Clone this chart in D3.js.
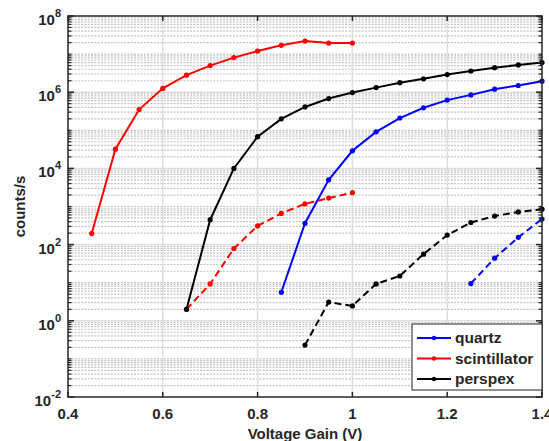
<!DOCTYPE html>
<html>
<head>
<script src="https://cdn.jsdelivr.net/npm/d3@7"></script>
<style>
  body { margin: 0; background: #fff; }
  text { font-family: "Liberation Sans", Arial, sans-serif; font-weight: bold; fill: #262626; }
</style>
</head>
<body>
<svg id="chart"></svg>
<script>
// voltage gain steps
const gainA = [0.45, 0.5, 0.55, 0.6, 0.65, 0.7, 0.75, 0.8, 0.85, 0.9, 0.95, 1.0];
const gainB = [0.65, 0.7, 0.75, 0.8, 0.85, 0.9, 0.95, 1.0, 1.05, 1.1, 1.15, 1.2, 1.25, 1.3, 1.35, 1.4];
const gainC = [0.85, 0.9, 0.95, 1.0, 1.05, 1.1, 1.15, 1.2, 1.25, 1.3, 1.35, 1.4];

// counts/s
const scintSolid = [195, 3.2e4, 3.5e5, 1.26e6, 2.8e6, 5.0e6, 8.1e6, 1.2e7, 1.7e7, 2.2e7, 1.95e7, 1.95e7];
const scintDashed = [2.0, 9.3, 79, 310, 660, 1170, 1660, 2300];
const perspexSolid = [2.0, 450, 1.0e4, 6.8e4, 2.0e5, 4.1e5, 6.8e5, 9.8e5, 1.32e6, 1.78e6, 2.24e6, 2.9e6, 3.6e6, 4.4e6, 5.2e6, 6.0e6];
const perspexDashed = [0.23, 3.1, 2.45, 9.3, 15, 56, 178, 380, 560, 720, 850];
const quartzSolid = [5.6, 363, 5.0e3, 2.9e4, 9.1e4, 2.1e5, 3.9e5, 6.2e5, 8.5e5, 1.2e6, 1.5e6, 1.95e6];
const quartzDashed = [9.5, 44, 155, 470];

const xTicks = [0.4, 0.6, 0.8, 1.0, 1.2, 1.4];
const xTickLabels = ['0.4', '0.6', '0.8', '1', '1.2', '1.4'];
const yTickExp = [-2, 0, 2, 4, 6, 8];

const legendNames = ['quartz', 'scintillator', 'perspex'];
const legendColors = ['#0000ff', '#ff0000', '#000000'];

const width = 549, height = 441;
const margin = { top: 16, right: 7, bottom: 44, left: 68 };

const svg = d3.select('#chart').attr('width', width).attr('height', height);

const x = d3.scaleLinear().domain([0.4, 1.4]).range([margin.left, width - margin.right]);
const y = d3.scaleLog().domain([1e-2, 1e8]).range([height - margin.bottom, margin.top]);

const x0 = x.range()[0], x1 = x.range()[1];
const yb = y.range()[0], yt = y.range()[1];

// minor positions on the log axis (everything that isn't an even decade)
const minorY = [];
for (let e = -2; e < 8; e++) {
  for (let m = 1; m <= 9; m++) {
    if (m === 1 && e % 2 === 0) continue;
    minorY.push(m * Math.pow(10, e));
  }
}

const grid = svg.append('g');
grid.selectAll('line.minor').data(minorY).enter().append('line')
  .attr('x1', x0).attr('x2', x1)
  .attr('y1', d => y(d)).attr('y2', d => y(d))
  .attr('stroke', '#c4c4c4').attr('stroke-width', 1.2)
  .attr('stroke-dasharray', '2,1.3');

grid.selectAll('line.majy').data(yTickExp.slice(1, -1)).enter().append('line')
  .attr('x1', x0).attr('x2', x1)
  .attr('y1', d => y(Math.pow(10, d))).attr('y2', d => y(Math.pow(10, d)))
  .attr('stroke', '#dedede').attr('stroke-width', 1.5);

grid.selectAll('line.majx').data(xTicks.slice(1, -1)).enter().append('line')
  .attr('x1', d => x(d)).attr('x2', d => x(d))
  .attr('y1', yb).attr('y2', yt)
  .attr('stroke', '#dedede').attr('stroke-width', 1.5);

// series
const series = [
  { xs: gainA, ys: scintSolid, color: '#ff0000', dash: null },
  { xs: gainB.slice(0, 8), ys: scintDashed, color: '#ff0000', dash: '7,4' },
  { xs: gainB, ys: perspexSolid, color: '#000000', dash: null },
  { xs: gainC.slice(1), ys: perspexDashed, color: '#000000', dash: '7,4' },
  { xs: gainC, ys: quartzSolid, color: '#0000ff', dash: null },
  { xs: gainC.slice(-4), ys: quartzDashed, color: '#0000ff', dash: '7,4' }
];

const line = d3.line().x(d => x(d[0])).y(d => y(d[1]));

const plot = svg.append('g');
series.forEach(s => {
  const pts = s.xs.map((v, i) => [v, s.ys[i]]);
  plot.append('path')
    .attr('d', line(pts))
    .attr('fill', 'none')
    .attr('stroke', s.color)
    .attr('stroke-width', 2)
    .attr('stroke-dasharray', s.dash);
  plot.selectAll(null).data(pts).enter().append('circle')
    .attr('cx', d => x(d[0])).attr('cy', d => y(d[1]))
    .attr('r', 2.6).attr('fill', s.color);
});

// axes box + ticks
const axes = svg.append('g').attr('stroke', '#262626');
axes.append('rect')
  .attr('x', x0).attr('y', yt).attr('width', x1 - x0).attr('height', yb - yt)
  .attr('fill', 'none').attr('stroke-width', 1.5);

xTicks.forEach(v => {
  axes.append('line').attr('x1', x(v)).attr('x2', x(v)).attr('y1', yb).attr('y2', yb - 5).attr('stroke-width', 1.5);
  axes.append('line').attr('x1', x(v)).attr('x2', x(v)).attr('y1', yt).attr('y2', yt + 5).attr('stroke-width', 1.5);
});
yTickExp.forEach(e => {
  const yy = y(Math.pow(10, e));
  axes.append('line').attr('x1', x0).attr('x2', x0 + 6).attr('y1', yy).attr('y2', yy).attr('stroke-width', 1.5);
  axes.append('line').attr('x1', x1).attr('x2', x1 - 6).attr('y1', yy).attr('y2', yy).attr('stroke-width', 1.5);
});
minorY.forEach(v => {
  const yy = y(v);
  axes.append('line').attr('x1', x0).attr('x2', x0 + 3.5).attr('y1', yy).attr('y2', yy).attr('stroke-width', 1.2);
  axes.append('line').attr('x1', x1).attr('x2', x1 - 3.5).attr('y1', yy).attr('y2', yy).attr('stroke-width', 1.2);
});

// tick labels
svg.selectAll('text.xt').data(xTicks).enter().append('text')
  .attr('x', d => x(d)).attr('y', 419)
  .attr('text-anchor', 'middle').attr('font-size', 15)
  .text((d, i) => xTickLabels[i]);

yTickExp.forEach(e => {
  const yy = y(Math.pow(10, e));
  const t = svg.append('text').attr('x', 61).attr('y', yy + 9)
    .attr('text-anchor', 'end').attr('font-size', 15);
  t.append('tspan').text('10');
  t.append('tspan').attr('dy', -8).attr('font-size', 11).text(String(e));
});

svg.append('text')
  .attr('x', (x0 + x1) / 2).attr('y', 439)
  .attr('text-anchor', 'middle').attr('font-size', 15)
  .text('Voltage Gain (V)');

svg.append('text')
  .attr('transform', 'translate(25,' + ((yt + yb) / 2) + ') rotate(-90)')
  .attr('text-anchor', 'middle').attr('font-size', 15)
  .text('counts/s');

// legend
const lg = svg.append('g');
lg.append('rect')
  .attr('x', 412).attr('y', 324).attr('width', x1 - 412).attr('height', 66)
  .attr('fill', '#fff').attr('stroke', '#262626').attr('stroke-width', 1);
legendNames.forEach((name, i) => {
  const ly = 338 + i * 20.5;
  lg.append('line').attr('x1', 417).attr('x2', 451).attr('y1', ly).attr('y2', ly)
    .attr('stroke', legendColors[i]).attr('stroke-width', 2);
  lg.append('circle').attr('cx', 434).attr('cy', ly).attr('r', 2.2).attr('fill', legendColors[i]);
  lg.append('text').attr('x', 455).attr('y', ly + 5)
    .attr('font-size', 15.5).attr('fill', '#000').text(name);
});
</script>
</body>
</html>
